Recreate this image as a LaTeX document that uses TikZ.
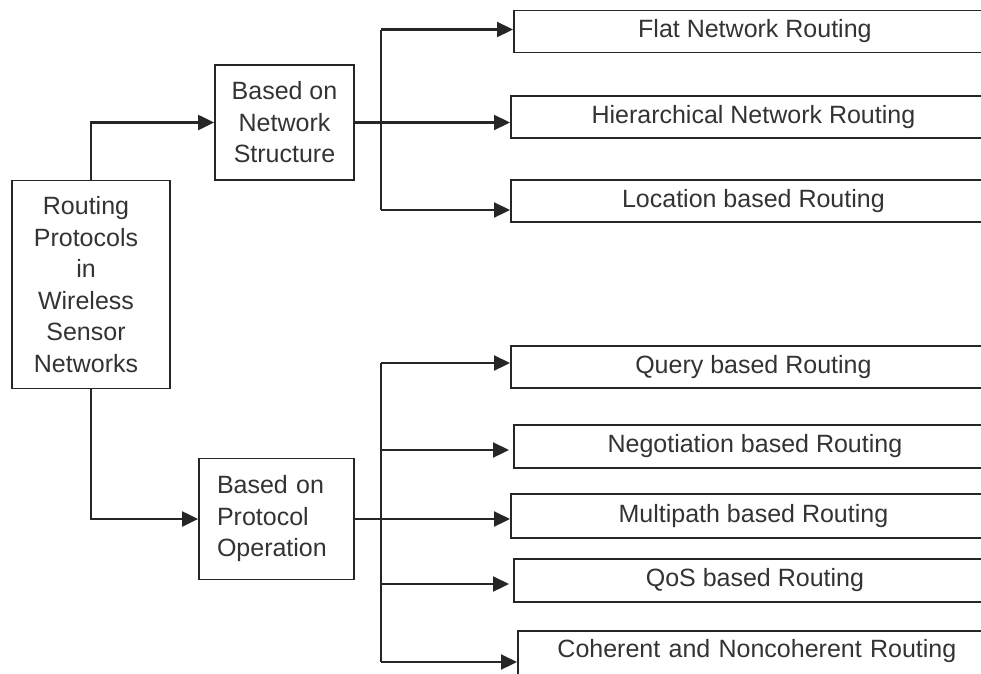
\documentclass[tikz,border=0pt]{standalone}
\usepackage{fontspec}
\setmainfont{Liberation Sans}
\usetikzlibrary{arrows.meta}
\definecolor{linec}{HTML}{262626}
\definecolor{textc}{HTML}{333333}
\begin{document}
\begin{tikzpicture}[x=1pt,y=-1pt,
  line/.style={draw=linec, line width=2.2pt},
  arr/.style={line, -{Triangle[length=16pt,width=15pt]}},
  box/.style={draw=linec, line width=1.8pt, text=textc,
    font=\fontsize{25}{31.5}\selectfont, inner sep=0pt, align=center},
  leaf/.style={box, anchor=north west}]
\useasboundingbox (0,0) rectangle (981,673);
\clip (0,0) rectangle (981,673);

\node[box, minimum width=158pt, minimum height=208pt] (root) at (91,284.5)
  {\hspace*{-10pt}Routing\\\hspace*{-10pt}Protocols\\\hspace*{-10pt}in\\\hspace*{-10pt}Wireless\\\hspace*{-10pt}Sensor\\\hspace*{-10pt}Networks};
\node[box, minimum width=139pt, minimum height=115pt] (ns) at (284.5,122.5)
  {Based on\\Network\\Structure};
\node[box, minimum width=155pt, minimum height=121pt, inner xsep=18pt,
  text width=119pt, align=left] (po) at (276.5,519)
  {Based on\\Protocol\\Operation};

\node[leaf, minimum width=482pt, minimum height=42pt] (flat) at (513,9.5) {Flat Network Routing};
\node[leaf, minimum width=485pt, minimum height=42pt] (hier) at (510,95) {Hierarchical Network Routing};
\node[leaf, minimum width=485pt, minimum height=42pt] (loc) at (510,179) {Location based Routing};
\node[leaf, minimum width=485pt, minimum height=42pt] (query) at (510,345) {Query based Routing};
\node[leaf, minimum width=482pt, minimum height=43pt] (nego) at (513,424) {Negotiation based Routing};
\node[leaf, minimum width=485pt, minimum height=44pt] (multi) at (510,493) {Multipath based Routing};
\node[leaf, minimum width=482pt, minimum height=43pt] (qos) at (513,558) {QoS based Routing};
\node[leaf, minimum width=478pt, text height=27pt, text depth=40pt, text width=478pt] (coh) at (517,630) {Coherent and Noncoherent Routing};

% root connectors
\draw[arr] (root.north) |- (ns.west);
\draw[arr] (root.south) |- (po.west);

% network structure branch
\coordinate (t1) at (381,29.5);
\coordinate (t3) at (381,210);
\draw[line] (t1) -- (t3);
\draw[arr] (t1) -- (t1 -| flat.west);
\draw[arr] (ns.east) -- (ns.east -| hier.west);
\draw[arr] (t3) -- (t3 -| loc.west);

% protocol operation branch
\coordinate (u1) at (381,363);
\coordinate (u2) at (381,450);
\coordinate (u4) at (381,584);
\coordinate (u5) at (381,662);
\draw[line] (u1) -- (u5);
\draw[arr] (u1) -- (u1 -| query.west);
\draw[arr, shorten >=4pt] (u2) -- (u2 -| nego.west);
\draw[arr] (po.east) -- (po.east -| multi.west);
\draw[arr, shorten >=4pt] (u4) -- (u4 -| qos.west);
\draw[arr] (u5) -- (u5 -| coh.west);
\end{tikzpicture}
\end{document}
